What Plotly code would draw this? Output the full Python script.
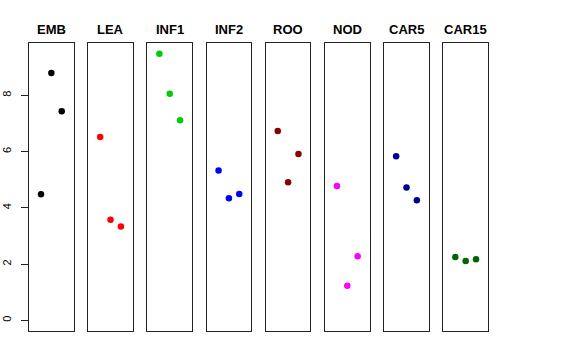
import plotly.graph_objects as go

categories = ["EMB", "LEA", "INF1", "INF2", "ROO", "NOD", "CAR5", "CAR15"]
colors = ["#000000", "#FF0000", "#00CD00", "#0000FF", "#8B0000", "#FF00FF", "#00008B", "#006400"]
x_positions = [1, 2, 3]
values = {
    "EMB":   [4.48, 8.79, 7.43],
    "LEA":   [6.52, 3.58, 3.34],
    "INF1":  [9.48, 8.06, 7.11],
    "INF2":  [5.33, 4.34, 4.49],
    "ROO":   [6.73, 4.91, 5.91],
    "NOD":   [4.78, 1.23, 2.28],
    "CAR5":  [5.83, 4.72, 4.27],
    "CAR15": [2.25, 2.11, 2.17],
}
y_ticks = [0, 2, 4, 6, 8]

W, H = 576, 360
left0, step, pw = 29.0, 59.19, 44.7
top_px, bot_px = 43.3, 331.0
ydom = [(H - bot_px) / H, (H - top_px) / H]

fig = go.Figure()
layout = dict(
    width=W, height=H, margin=dict(l=0, r=0, t=0, b=0, autoexpand=False),
    plot_bgcolor="white", paper_bgcolor="white", showlegend=False,
    font=dict(family="Liberation Sans, Arial, sans-serif", color="black"),
)
annotations = []
for i, cat in enumerate(categories):
    k = "" if i == 0 else str(i + 1)
    l = left0 + step * i
    xd = [l / W, (l + pw) / W]
    fig.add_trace(go.Scatter(
        x=x_positions, y=values[cat], mode="markers",
        marker=dict(color=colors[i], size=6.5),
        xaxis="x" + k, yaxis="y" + k,
    ))
    layout["xaxis" + k] = dict(
        domain=xd, range=[-0.16, 4.16], showgrid=False, zeroline=False,
        showticklabels=False, ticks="", showline=True, mirror=True,
        linecolor="#222", linewidth=1, anchor="y" + k, fixedrange=True,
        automargin=False,
    )
    ya = dict(
        domain=ydom, range=[-0.379, 9.85], showgrid=False, zeroline=False,
        showline=True, mirror=True, linecolor="#222", linewidth=1,
        anchor="x" + k, fixedrange=True, automargin=False,
    )
    if i == 0:
        ya.update(tickvals=y_ticks, ticktext=[str(t) for t in y_ticks],
                  ticks="outside", ticklen=7, tickcolor="#222",
                  tickangle=-90, ticklabelstandoff=6,
                  tickfont=dict(size=11, color="black"))
    else:
        ya.update(showticklabels=False, ticks="")
    layout["yaxis" + k] = ya
    annotations.append(dict(
        text="<b>" + cat + "</b>", x=(xd[0] + xd[1]) / 2, y=(H - 29.5) / H,
        xref="paper", yref="paper", showarrow=False,
        font=dict(size=13, color="black"), xanchor="center", yanchor="middle",
    ))
layout["annotations"] = annotations
fig.update_layout(**layout)
fig.write_html("out.html", config={"displayModeBar": False},
               post_script="document.body.style.margin='0px';")
